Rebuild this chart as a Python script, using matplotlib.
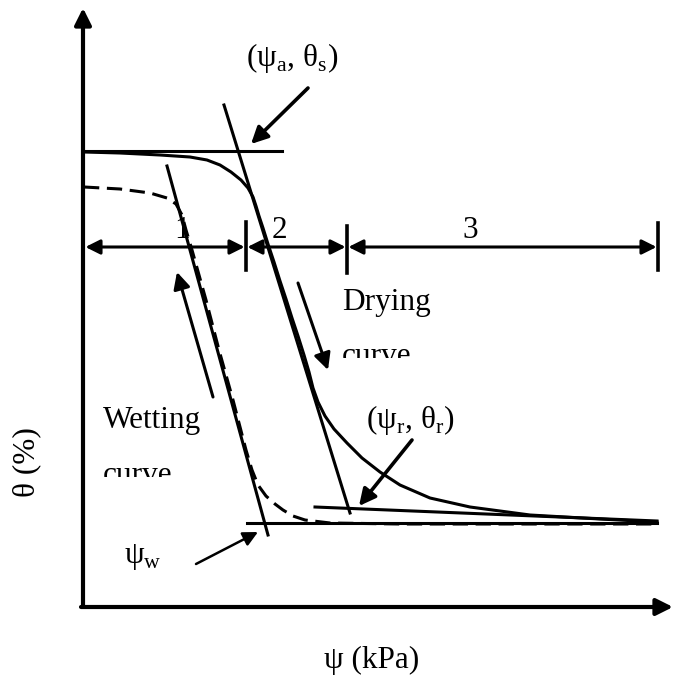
import numpy as np
import matplotlib
matplotlib.use("Agg")
import matplotlib.pyplot as plt
from matplotlib.patches import Rectangle

plt.rcParams['font.family'] = ['Liberation Serif', 'DejaVu Serif']
plt.rcParams['mathtext.fontset'] = 'custom'
plt.rcParams['mathtext.rm'] = 'Liberation Serif'

# schematic coordinates (image pixels, y grows downward)
drying_x = [84, 120, 160, 190, 207, 220, 231, 241, 248, 253, 256, 259, 263, 268, 274, 280, 286, 292,
            298, 304, 309, 313, 318, 325, 334, 347, 362, 380, 400, 430, 470, 530, 600, 657]
drying_y = [152, 153, 155, 157, 160, 165, 172, 180, 188, 197, 206, 216, 228, 244, 262, 281, 299, 318,
            336, 355, 372, 388, 402, 416, 429, 443, 458, 472, 485, 498, 507, 515, 519, 522]

wetting_x = [84, 120, 150, 167, 176, 182, 186, 192, 206, 219, 233, 246, 252, 258, 266, 275, 283, 293,
             305, 330, 400, 657]
wetting_y = [187, 189, 193, 198, 204, 215, 230, 250, 300, 350, 400, 450, 470, 485, 496, 504, 510, 516,
             520, 523, 524, 524]

sat_line_x = [84, 282]
sat_line_y = [151, 151]
dry_tangent_x = [224, 350]
dry_tangent_y = [105, 513]
wet_tangent_x = [167, 268]
wet_tangent_y = [166, 535]
res_line_x = [315, 657]
res_line_y = [507, 521]
wet_res_x = [247, 657]
wet_res_y = [523, 523]

zone_edges = [84, 246, 347, 658]
zone_tick_top = [222, 226, 223]
zone_tick_bottom = [270, 273, 270]
zone_labels = ['1', '2', '3']
zone_label_x = [182, 279, 470]
zone_y = 247

fig = plt.figure(figsize=(6.73, 6.77), dpi=100)
ax = fig.add_axes([0, 0, 1, 1])
ax.set_xlim(0, 673)
ax.set_ylim(677, 0)
ax.axis('off')

lw = 2.2
fs = 22.5

def arrow(tip, tail, width=lw, size=25, style='-|>'):
    ax.annotate('', xy=tip, xytext=tail,
                arrowprops=dict(arrowstyle=style, lw=width, color='black', mutation_scale=size,
                                shrinkA=0, shrinkB=0))

# axes
arrow((83, 8), (83, 607), width=3)
arrow((673, 607), (81, 607), width=3)

# curves and construction lines
ax.plot(drying_x, drying_y, color='black', lw=lw)
ax.plot(wetting_x, wetting_y, color='black', lw=lw, ls=(0, (5, 2.5)))
ax.plot(sat_line_x, sat_line_y, color='black', lw=lw)
ax.plot(dry_tangent_x, dry_tangent_y, color='black', lw=lw)
ax.plot(wet_tangent_x, wet_tangent_y, color='black', lw=lw)
ax.plot(res_line_x, res_line_y, color='black', lw=lw)
ax.plot(wet_res_x, wet_res_y, color='black', lw=lw)

# zone dimension arrows
for i in range(len(zone_edges) - 1):
    ax.annotate('', xy=(zone_edges[i], zone_y), xytext=(zone_edges[i + 1], zone_y),
                arrowprops=dict(arrowstyle='<|-|>', lw=lw, color='black', mutation_scale=22,
                                shrinkA=1, shrinkB=1))
    ax.text(zone_label_x[i], 238, zone_labels[i], fontsize=fs, ha='center', va='baseline')
for xe, t0, t1 in zip(zone_edges[1:], zone_tick_top, zone_tick_bottom):
    ax.plot([xe, xe], [t0, t1], color='black', lw=2.6)

# direction arrows
arrow((328, 370), (298, 283))
arrow((177, 272), (213, 397))

# point annotations
ax.text(292, 58, '(ψ$_\\mathrm{a}$, θ$_\\mathrm{s}$)', fontsize=fs, ha='center', va='center')
arrow((251, 144), (308, 88), width=2.6)
ax.text(410, 420, '(ψ$_\\mathrm{r}$, θ$_\\mathrm{r}$)', fontsize=fs, ha='center', va='center')
arrow((359, 506), (412, 440), width=2.6)
ax.text(143, 557, 'ψ$_\\mathrm{w}$', fontsize=fs, ha='center', va='center')
arrow((258, 532), (196, 564), width=1.8, size=22)

# curve names, second line cut off as in the original
ax.text(342, 310, 'Drying', fontsize=fs, ha='left', va='baseline')
t = ax.text(342, 364, 'curve', fontsize=fs, ha='left', va='baseline', clip_on=True)
t.set_clip_path(Rectangle((330, 320), 150, 38, transform=ax.transData))
ax.text(103, 428, 'Wetting', fontsize=fs, ha='left', va='baseline')
t = ax.text(103, 483, 'curve', fontsize=fs, ha='left', va='baseline', clip_on=True)
t.set_clip_path(Rectangle((90, 440), 150, 37, transform=ax.transData))

# axis titles
ax.text(372, 660, 'ψ (kPa)', fontsize=fs, ha='center', va='center')
ax.text(27, 462, 'θ (%)', fontsize=fs, ha='center', va='center', rotation=90)

fig.savefig('out.png', dpi=100)
